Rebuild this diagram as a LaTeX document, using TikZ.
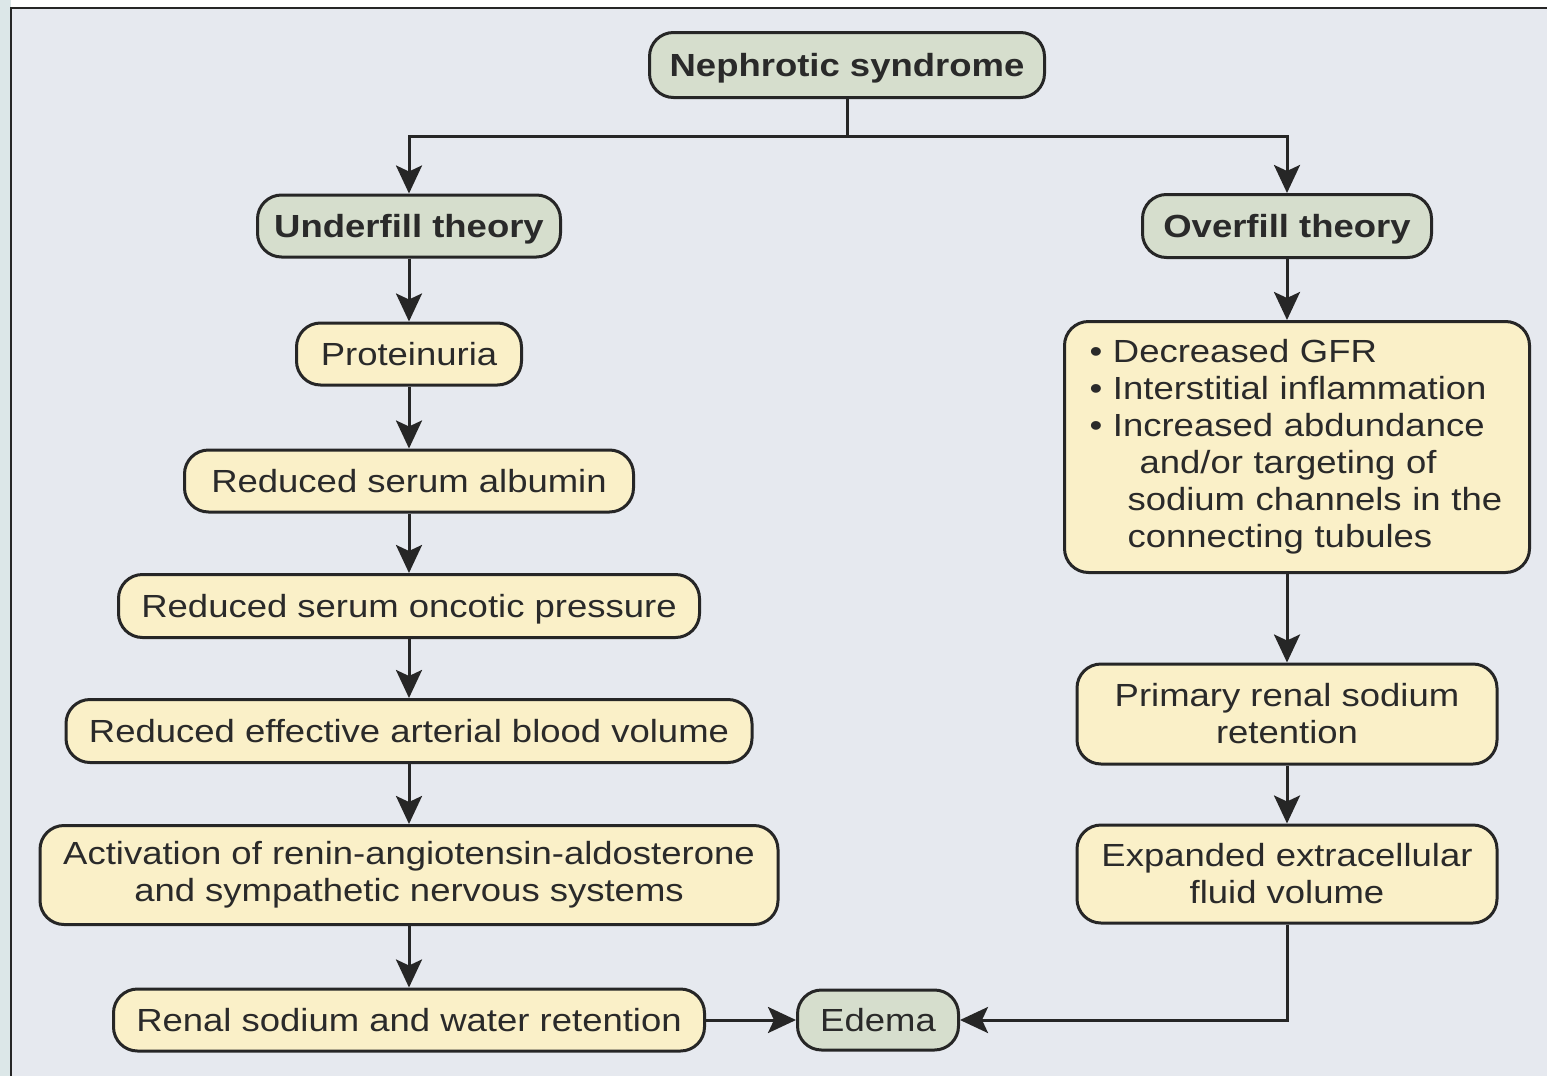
\documentclass[tikz,border=0pt]{standalone}
\usepackage{fontspec}
\setmainfont{Liberation Sans}[FakeStretch=1.14]
\usetikzlibrary{arrows.meta}
\definecolor{panelfill}{HTML}{E6E9EF}
\definecolor{sidefill}{HTML}{DCE7E8}
\definecolor{boxline}{HTML}{262626}
\definecolor{headfill}{HTML}{D6DECD}
\definecolor{stagefill}{HTML}{FAF0C8}
\definecolor{inkcol}{HTML}{2A2A2A}

\begin{document}
\begin{tikzpicture}[x=0.5pt,y=-0.5pt]
            \tikzset{box/.style={draw=boxline, line width=1.5pt, rounded corners=12pt, inner sep=0pt,
                         align=center, text=inkcol, font=\fontsize{16}{18.5}\selectfont},
                     wh/.style 2 args={minimum width=#1*0.5pt, minimum height=#2*0.5pt},
                     flat/.style={text height=11.5pt, text depth=0pt},
                     head/.style={box, flat, fill=headfill, font=\bfseries\fontsize{16}{18.5}\selectfont},
                     sage/.style={box, flat, fill=headfill},
                     stage/.style={box, fill=stagefill},
                     link/.style={draw=boxline, line width=1.5pt,
                         -{Stealth[length=14pt, width=13pt, inset=3pt]}}}

            \useasboundingbox (0,0) rectangle (1547,1076);
            \fill[white] (0,0) rectangle (1547,1076);
            \fill[sidefill] (0,0) rectangle (11,1076);
            \fill[panelfill] (11,8) rectangle (1547,1076);
            \draw[boxline, line width=1.2pt] (11,1076) -- (11,8) -- (1547,8);

            \node[head, wh={395}{65}] (nephro) at (847,65) {Nephrotic syndrome};
            \node[head, wh={303}{62}] (under) at (409,226) {Underfill theory};
            \node[head, wh={289}{63}] (over) at (1287,226) {Overfill theory};

            \node[stage, flat, wh={225}{62}] (prot) at (409,354) {Proteinuria};
            \node[stage, flat, wh={449}{62}] (alb) at (409,481) {Reduced serum albumin};
            \node[stage, flat, wh={581}{63}] (onc) at (409,606) {Reduced serum oncotic pressure};
            \node[stage, flat, wh={686}{63}] (eabv) at (409,731) {Reduced effective arterial blood volume};
            \node[stage, wh={738}{99}] (raas) at (409,875)
                {Activation of renin-angiotensin-aldosterone\\and sympathetic nervous systems};
            \node[stage, flat, wh={591}{62}] (renal) at (409,1020) {Renal sodium and water retention};
            \node[sage, wh={161}{60}] (edema) at (878,1020) {Edema};

            \node[stage, wh={465}{251}, align=left, text width=207.5pt, inner xsep=12.5pt] (gfr) at (1297,447)
                {\textbullet\ Decreased GFR\\
                 \textbullet\ Interstitial inflammation\\
                 \textbullet\ Increased abdundance\\
                 \hspace*{25pt}and/or targeting of\\
                 \hspace*{19pt}sodium channels in the\\
                 \hspace*{19pt}connecting tubules};
            \node[stage, wh={420}{100}] (prim) at (1287,714) {Primary renal sodium\\retention};
            \node[stage, wh={420}{98}] (ecf) at (1287,874) {Expanded extracellular\\fluid volume};

            \draw[link] (nephro.south) -- ++(0,37) -| (under.north);
            \draw[link] (nephro.south) -- ++(0,37) -| (over.north);

            \draw[link] (under) -- (prot);
            \draw[link] (prot) -- (alb);
            \draw[link] (alb) -- (onc);
            \draw[link] (onc) -- (eabv);
            \draw[link] (eabv) -- (raas);
            \draw[link] (raas) -- (renal);
            \draw[link] (renal) -- (edema);

            \draw[link] (over.south) -- (over.south |- gfr.north);
            \draw[link] (gfr.south -| prim.north) -- (prim.north);
            \draw[link] (prim) -- (ecf);
            \draw[link] (ecf.south) |- (edema.east);
\end{tikzpicture}
\end{document}
